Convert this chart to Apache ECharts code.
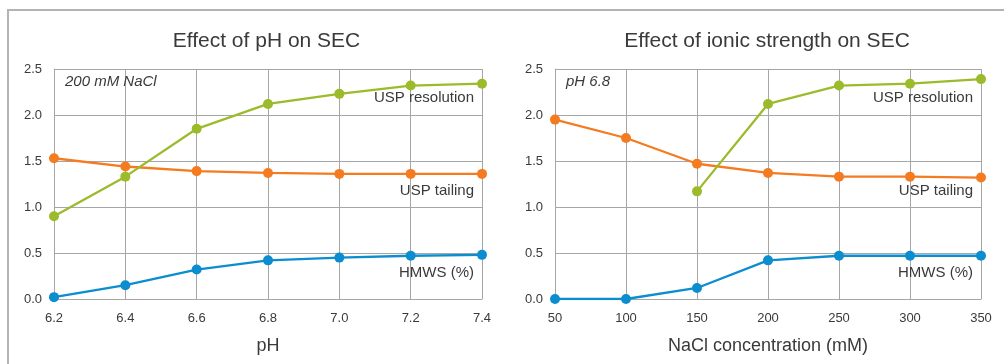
<!DOCTYPE html>
<html>
<head>
<meta charset="utf-8">
<script src="https://cdn.jsdelivr.net/npm/echarts@6/dist/echarts.min.js"></script>
<style>
  html, body { margin: 0; padding: 0; background: #fff; overflow: hidden; }
  #chart { width: 1004px; height: 364px; }
</style>
</head>
<body>
<div id="chart"></div>
<script>
// pH series (200 mM NaCl)
const phCategories = ['6.2', '6.4', '6.6', '6.8', '7.0', '7.2', '7.4'];
const phResolution = [0.90, 1.33, 1.85, 2.12, 2.23, 2.32, 2.34];
const phTailing    = [1.53, 1.44, 1.39, 1.37, 1.36, 1.36, 1.36];
const phHmws       = [0.02, 0.15, 0.32, 0.42, 0.45, 0.47, 0.48];

// Ionic strength series (pH 6.8)
const naclCategories = ['50', '100', '150', '200', '250', '300', '350'];
const naclResolution = [null, null, 1.17, 2.12, 2.32, 2.34, 2.39];
const naclTailing    = [1.95, 1.75, 1.47, 1.37, 1.33, 1.33, 1.32];
const naclHmws       = [0.00, 0.00, 0.12, 0.42, 0.47, 0.47, 0.47];

const yTicks = { min: 0, max: 2.5, interval: 0.5 };

const GREEN = '#9bbb2b';
const ORANGE = '#f47b20';
const BLUE = '#0b8dd0';
const TEXT = '#3a3a3a';
const GRID = '#a6a6a6';
const FONT = '"Liberation Sans", Arial, sans-serif';

function xAxis(gridIndex, data, name) {
  return {
    type: 'category', gridIndex, data, boundaryGap: false,
    name, nameLocation: 'middle', nameGap: 38,
    nameTextStyle: { fontFamily: FONT, fontSize: 18, color: TEXT },
    axisLine: { lineStyle: { color: GRID, width: 1 } },
    axisTick: { show: false },
    axisLabel: { fontFamily: FONT, fontSize: 13, color: TEXT, margin: 13 },
    splitLine: { show: true, lineStyle: { color: GRID, width: 1 } }
  };
}
function yAxis(gridIndex) {
  return {
    type: 'value', gridIndex, min: yTicks.min, max: yTicks.max, interval: yTicks.interval,
    axisLine: { show: true, lineStyle: { color: GRID, width: 1 } },
    axisTick: { show: false },
    axisLabel: { fontFamily: FONT, fontSize: 13, color: TEXT, margin: 12,
                 formatter: v => v.toFixed(1) },
    splitLine: { show: true, lineStyle: { color: GRID, width: 1 } }
  };
}
function line(idx, data, color, z) {
  return {
    type: 'line', xAxisIndex: idx, yAxisIndex: idx, data, z,
    symbol: 'circle', symbolSize: 10, connectNulls: false,
    lineStyle: { color, width: 2.3 },
    itemStyle: { color },
    emphasis: { disabled: true }, animation: false
  };
}
function label(x, y, text, italic) {
  return {
    type: 'text', x, y, z: 100,
    style: { text, fontFamily: FONT, fontSize: 15, fill: TEXT,
             fontStyle: italic ? 'italic' : 'normal',
             textAlign: italic ? 'left' : 'right', textVerticalAlign: 'middle' }
  };
}

const chart = echarts.init(document.getElementById('chart'), null, { renderer: 'canvas' });
chart.setOption({
  animation: false,
  backgroundColor: '#fff',
  title: [
    { text: 'Effect of pH on SEC', left: 261.5, top: 26, textAlign: 'center',
      textStyle: { fontFamily: FONT, fontSize: 21, fontWeight: 'normal', color: TEXT } },
    { text: 'Effect of ionic strength on SEC', left: 762, top: 26, textAlign: 'center',
      textStyle: { fontFamily: FONT, fontSize: 21, fontWeight: 'normal', color: TEXT } }
  ],
  grid: [
    { left: 54, right: 522, top: 69, bottom: 65 },
    { left: 555, right: 23, top: 69, bottom: 65 }
  ],
  xAxis: [xAxis(0, phCategories, 'pH'), xAxis(1, naclCategories, 'NaCl concentration (mM)')],
  yAxis: [yAxis(0), yAxis(1)],
  series: [
    line(0, phHmws, BLUE, 3), line(0, phTailing, ORANGE, 4), line(0, phResolution, GREEN, 5),
    line(1, naclHmws, BLUE, 3), line(1, naclTailing, ORANGE, 4), line(1, naclResolution, GREEN, 5)
  ],
  graphic: [
    // panel frame: left and top edges only
    { type: 'line', z: 0, silent: true,
      shape: { x1: 8, y1: 9, x2: 8, y2: 364 },
      style: { stroke: '#b3b3b3', lineWidth: 2 } },
    { type: 'line', z: 0, silent: true,
      shape: { x1: 7, y1: 10, x2: 1004, y2: 10 },
      style: { stroke: '#b3b3b3', lineWidth: 2 } },
    label(65, 82, '200 mM NaCl', true),
    label(474, 98, 'USP resolution'),
    label(474, 191, 'USP tailing'),
    label(474, 273, 'HMWS (%)'),
    label(566, 82, 'pH 6.8', true),
    label(973, 98, 'USP resolution'),
    label(973, 191, 'USP tailing'),
    label(973, 273, 'HMWS (%)')
  ]
});
</script>
</body>
</html>
